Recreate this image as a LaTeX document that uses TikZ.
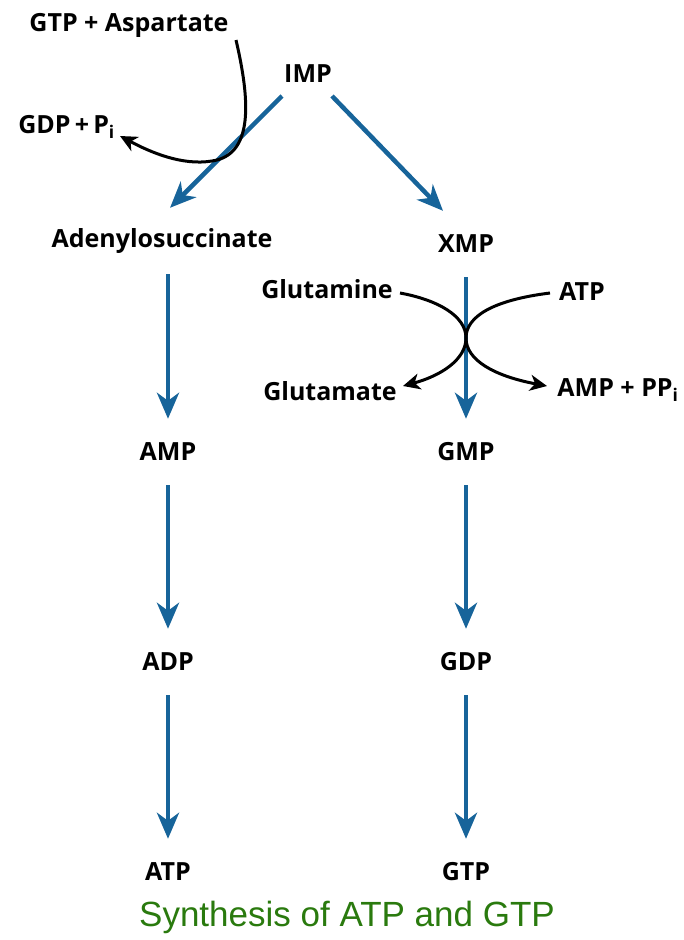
\documentclass[tikz,border=0pt]{standalone}
\usepackage{fontspec}
\setmainfont{Open Sans}
\newfontfamily\titlefont{Liberation Sans}
\usetikzlibrary{arrows.meta}
\definecolor{pathblue}{HTML}{17649A}
\definecolor{titlegreen}{HTML}{2A7A0E}
\begin{document}
\begin{tikzpicture}[x=1pt,y=-1pt,
  lbl/.style={font=\fontsize{25}{30}\selectfont\bfseries, inner sep=0pt},
  mol/.style={lbl, minimum height=66pt},
  bluearrow/.style={draw=pathblue, line width=4.5pt, -{Stealth[length=26pt,width=22pt,inset=8pt]}},
  blackarrow/.style={draw=black, line width=3pt, -{Stealth[length=17pt,width=16pt,inset=5pt]}},
]
\useasboundingbox (0,0) rectangle (684,940);

% top
\node[lbl] (gtpasp) at (129,25) {GTP + Aspartate};
\node[lbl] (imp) at (308,74) {IMP};
\node[lbl, anchor=east] (gdppi) at (115,127) {GDP\,+\,P\textsubscript{i}};
\coordinate (impL) at (282,96);
\coordinate (impR) at (332,96);
\coordinate (aspStart) at (236,40);
\coordinate (gdpTip) at (120,136);

% left column
\node[mol] (ads) at (162,241) {Adenylosuccinate};
\node[mol] (amp) at (168,452) {AMP};
\node[mol] (adp) at (168,662) {ADP};
\node[mol] (atp) at (168,872) {ATP};

% right column
\node[mol] (xmp) at (466,244) {XMP};
\node[mol] (gmp) at (466,452) {GMP};
\node[mol] (gdp) at (466,662) {GDP};
\node[mol] (gtp) at (466,872) {GTP};

% side reactants
\node[lbl] (gln) at (327,289) {Glutamine};
\node[lbl] (atpin) at (582,292) {ATP};
\node[lbl] (glu) at (330,391) {Glutamate};
\node[lbl] (ampppi) at (618,390) {AMP + PP\textsubscript{i}};
\coordinate (glnStart) at (400,293);
\coordinate (atpStart) at (550,293);
\coordinate (gluTip) at (403,386);
\coordinate (ampTip) at (547,386);
\coordinate (cross) at (466,338);

% blue arrows
\draw[bluearrow] (impL) -- (ads.north -| 170,0) ;
\draw[bluearrow] (impR) -- (xmp.north -| 443,0);
\draw[bluearrow] (ads.south -| amp) -- (amp.north);
\draw[bluearrow] (amp.south) -- (adp.north);
\draw[bluearrow] (adp.south) -- (atp.north);
\draw[bluearrow] (xmp.south) -- (gmp.north);
\draw[bluearrow] (gmp.south) -- (gdp.north);
\draw[bluearrow] (gdp.south) -- (gtp.north);

% black curves
\draw[blackarrow] (aspStart) .. controls (250,100) and (254,155) .. (212,161) .. controls (182,166) and (150,152) .. (gdpTip);
\draw[blackarrow] (glnStart) .. controls (438,300) and (466,316) .. (cross) .. controls (466,360) and (440,376) .. (gluTip);
\draw[blackarrow] (atpStart) .. controls (494,300) and (466,316) .. (cross) .. controls (466,360) and (494,376) .. (ampTip);

% title
\node[font=\titlefont\fontsize{35}{40}\selectfont, text=titlegreen, inner sep=0pt] (title) at (347,917) {Synthesis of ATP and GTP};
\end{tikzpicture}
\end{document}
